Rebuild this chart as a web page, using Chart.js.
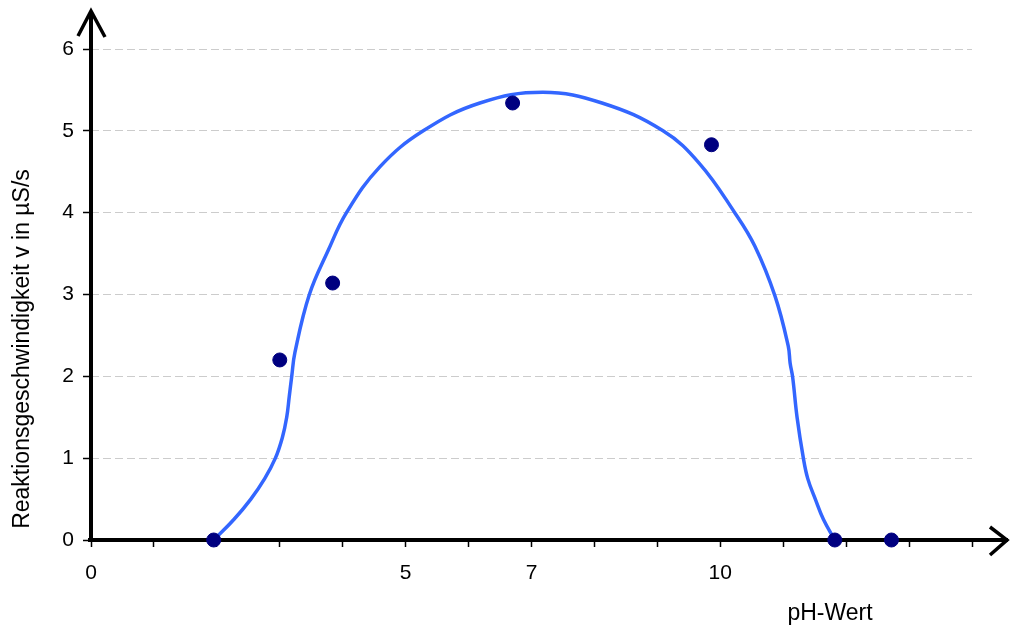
<!DOCTYPE html>
<html>
<head>
<meta charset="utf-8">
<script src="https://cdn.jsdelivr.net/npm/chart.js@4.4.1/dist/chart.umd.min.js"></script>
<style>
  html, body { margin: 0; padding: 0; background: #fff; }
  #wrap { width: 1010px; height: 630px; }
</style>
</head>
<body>
<div id="wrap"><canvas id="myChart" width="1010" height="630"></canvas></div>
<script>
// Messpunkte
var phWerte = [1.95, 3, 3.84, 6.7, 9.86, 11.82, 12.72];
var geschwindigkeit = [0, 2.2, 3.14, 5.34, 4.83, 0, 0];

// Ausgleichskurve
var kurvePh = [1.95, 2.27, 2.54, 2.76, 2.93, 3.04, 3.11, 3.15, 3.19, 3.24, 3.47, 3.77, 4.06, 4.59, 5.28, 6.18, 7.18, 8.12, 9.09, 9.67, 10.23, 10.55, 10.87, 11.08, 11.11, 11.15, 11.22, 11.32, 11.39, 11.51, 11.64, 11.82];
var kurveV = [0, 0.25, 0.5, 0.75, 1.0, 1.25, 1.5, 1.75, 2.0, 2.29, 3.0, 3.54, 4.0, 4.56, 5.0, 5.34, 5.47, 5.34, 5.0, 4.6, 4.0, 3.59, 2.98, 2.37, 2.16, 1.99, 1.5, 1.0, 0.75, 0.5, 0.25, 0];

// Achsen
var xBeschriftung = [0, 5, 7, 10];
var xMin = 0, xMax = 14;
var yMin = 0, yMax = 6;

function toPoints(xs, ys) {
    return xs.map(function (x, i) { return { x: x, y: ys[i] }; });
}

var schrift = "'Liberation Sans', Arial, sans-serif";

// Achsen mit Pfeilen und Achsentitel
var achsenPlugin = {
    id: 'achsen',
    beforeDatasetsDraw: function (chart) {
        var ctx = chart.ctx, a = chart.chartArea;
        var x0 = chart.scales.x.getPixelForValue(0);
        var y0 = chart.scales.y.getPixelForValue(0);
        ctx.save();
        ctx.strokeStyle = '#000';
        ctx.lineWidth = 4;
        ctx.beginPath();
        ctx.moveTo(x0, y0 + 2);
        ctx.lineTo(x0, a.top - 38);
        ctx.stroke();
        ctx.beginPath();
        ctx.moveTo(x0 - 3, y0);
        ctx.lineTo(a.right + 36, y0);
        ctx.stroke();
        ctx.lineWidth = 3.5;
        ctx.beginPath();
        ctx.moveTo(x0 - 13, a.top - 13);
        ctx.lineTo(x0, a.top - 38);
        ctx.lineTo(x0 + 14, a.top - 12);
        ctx.stroke();
        ctx.beginPath();
        ctx.moveTo(a.right + 18, y0 - 13);
        ctx.lineTo(a.right + 35, y0);
        ctx.lineTo(a.right + 18, y0 + 15);
        ctx.stroke();
        ctx.restore();
    },
    afterDraw: function (chart) {
        var ctx = chart.ctx;
        ctx.save();
        ctx.fillStyle = '#000';
        ctx.font = '23px ' + schrift;
        ctx.textAlign = 'center';
        ctx.textBaseline = 'alphabetic';
        ctx.fillText('pH-Wert', 830, 620);
        ctx.translate(29, 349);
        ctx.rotate(-Math.PI / 2);
        ctx.fillText('Reaktionsgeschwindigkeit v in \u00b5S/s', 0, 0);
        ctx.restore();
    }
};

var ctx = document.getElementById('myChart').getContext('2d');
var myChart = new Chart(ctx, {
    type: 'scatter',
    data: {
        datasets: [{
            label: 'Messwerte',
            data: toPoints(phWerte, geschwindigkeit),
            backgroundColor: '#000080',
            borderColor: '#000080',
            pointRadius: 7,
            showLine: false,
            clip: false
        }, {
            label: 'Kurve',
            data: toPoints(kurvePh, kurveV),
            borderColor: '#3366ff',
            borderWidth: 3.5,
            pointRadius: 0,
            showLine: true,
            tension: 0.4,
            clip: false
        }]
    },
    options: {
        responsive: false,
        animation: false,
        devicePixelRatio: 1,
        layout: { padding: { top: 49, right: 38, left: 0, bottom: 0 } },
        plugins: {
            legend: { display: false },
            tooltip: { enabled: false }
        },
        scales: {
            x: {
                type: 'linear',
                min: xMin,
                max: xMax,
                afterFit: function (s) { s.height = 90; },
                border: { display: false },
                grid: {
                    drawOnChartArea: false,
                    tickLength: 7,
                    tickColor: '#000',
                    tickWidth: 1.5
                },
                ticks: {
                    stepSize: 1,
                    autoSkip: false,
                    maxRotation: 0,
                    padding: 14,
                    color: '#000',
                    font: { family: schrift, size: 21 },
                    callback: function (v) {
                        return xBeschriftung.indexOf(v) >= 0 ? String(v) : '';
                    }
                }
            },
            y: {
                min: yMin,
                max: yMax,
                afterFit: function (s) { s.width = 91; },
                border: { display: false, dash: [8, 4] },
                grid: {
                    color: '#cccccc',
                    lineWidth: 1,
                    tickLength: 8,
                    tickColor: '#000',
                    tickWidth: 1.5,
                    tickBorderDash: []
                },
                ticks: {
                    stepSize: 1,
                    padding: 9,
                    color: '#000',
                    font: { family: schrift, size: 21 }
                }
            }
        }
    },
    plugins: [achsenPlugin]
});
</script>
</body>
</html>
